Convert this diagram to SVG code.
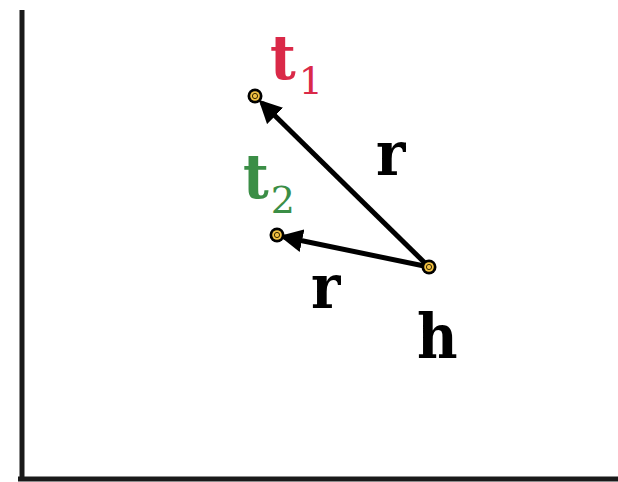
<svg xmlns="http://www.w3.org/2000/svg" width="618" height="482" viewBox="0 0 618 482">
<defs>
<style>
.lbl{font-family:"DejaVu Serif Condensed","DejaVu Serif","Liberation Serif",serif;font-stretch:condensed;font-weight:bold;font-size:62px;fill:#000}
.sub{font-family:"DejaVu Serif","Liberation Serif",serif;font-weight:normal;font-size:38px}
.edge{stroke:#000;stroke-width:5;fill:none;marker-end:url(#ah)}
.axis{stroke:#1a1a1a;stroke-width:5;fill:none}
.pt-o{fill:#000}
.pt-i{fill:#f2c143}
.pt-c{fill:#f2c143;stroke:#3a2a00;stroke-width:1}
</style>
<marker id="ah" viewBox="0 0 10 10" refX="8" refY="5" markerWidth="4.6" markerHeight="4.6" orient="auto" markerUnits="strokeWidth">
<path d="M0,0 L10,5 L0,10 z" fill="#000"/>
</marker>
</defs>
<rect width="618" height="482" fill="#fff"/>
<g id="axes">
<path class="axis" d="M22,10 V480"/>
<path class="axis" d="M18,479 H618"/>
</g>
<g id="connectors">
<line class="edge" x1="429" y1="267" x2="262" y2="103"/>
<line class="edge" x1="429" y1="267" x2="284" y2="237"/>
</g>
<g id="t1">
<circle class="pt-o" cx="255" cy="96" r="7.5"/><circle class="pt-i" cx="255" cy="96" r="4.8"/><circle class="pt-c" cx="255" cy="96" r="2.6"/>
<text x="270" y="79"><tspan class="lbl" style="fill:#da2948">t</tspan><tspan class="sub" style="fill:#da2948" dx="3" dy="15">1</tspan></text>
</g>
<g id="t2">
<circle class="pt-o" cx="277" cy="235" r="7.5"/><circle class="pt-i" cx="277" cy="235" r="4.8"/><circle class="pt-c" cx="277" cy="235" r="2.6"/>
<text x="243" y="198"><tspan class="lbl" style="fill:#3b8e46">t</tspan><tspan class="sub" style="fill:#3b8e46" dx="2" dy="15">2</tspan></text>
</g>
<g id="h">
<circle class="pt-o" cx="429" cy="267" r="7.5"/><circle class="pt-i" cx="429" cy="267" r="4.8"/><circle class="pt-c" cx="429" cy="267" r="2.6"/>
<text class="lbl" x="417" y="358">h</text>
</g>
<g id="edge-labels">
<text class="lbl" x="376" y="175">r</text>
<text class="lbl" x="311" y="308">r</text>
</g>
</svg>
